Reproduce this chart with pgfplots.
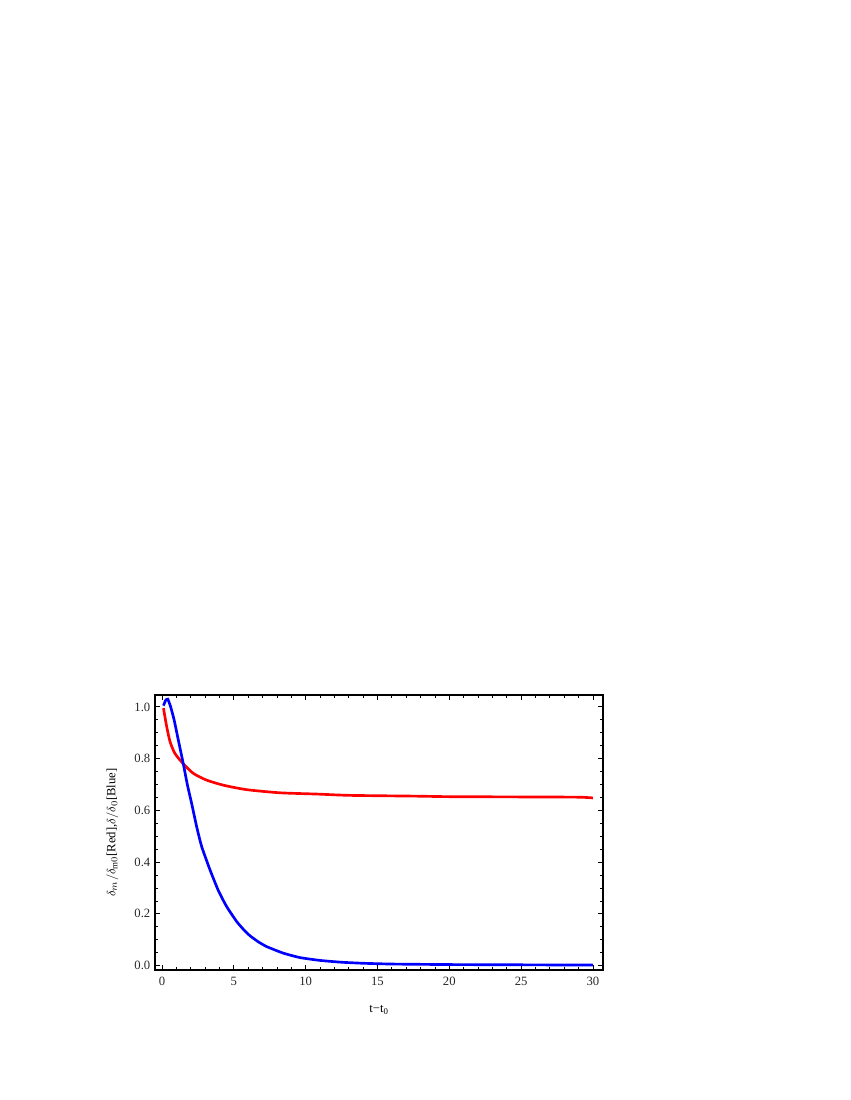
\documentclass[border=0pt]{standalone}
\usepackage{fontspec}
\setmainfont{Liberation Serif}
\usepackage{pgfplots}
\pgfplotsset{compat=1.18}
\begin{document}
\begin{tikzpicture}[x=1pt,y=1pt]
\path[use as bounding box] (0,0) rectangle (637.5,825);
\begin{axis}[
  at={(116.25pt,97.5pt)}, anchor=south west,
  scale only axis, width=336pt, height=206.25pt,
  xmin=-0.49, xmax=30.7, ymin=-0.017, ymax=1.046,
  xtick={0,5,...,30}, ytick={0,0.2,0.4,0.6,0.8,1.0},
  minor x tick num=4, minor y tick num=3,
  tick align=inside, xtick pos=both, ytick pos=both,
  major tick length=3.75pt, minor tick length=2.2pt,
  tick style={black, line width=0.6pt},
  axis line style={black, line width=0.9pt},
  /pgf/number format/assume math mode=true,
  ticklabel style={font=\fontsize{9.5}{11}\selectfont, text=black!85},
  yticklabel style={/pgf/number format/fixed, /pgf/number format/fixed zerofill, /pgf/number format/precision=1},
  xticklabel style={yshift=-2pt},
  xlabel={t−t\textsubscript{0}},
  ylabel={$\delta_m/\delta_{\mathrm{m}0}$[Red],$\delta/\delta_0$[Blue]},
  label style={font=\fontsize{9.5}{11}\selectfont},
  xlabel style={at={(axis description cs:0.5,-0.145)}, anchor=center},
  ylabel style={at={(axis description cs:-0.095,0.5)}, anchor=center},
]
\addplot[red, line width=2pt, smooth, tension=0.4] coordinates {
(0.1,0.995)(0.32,0.925)(0.56,0.865)(0.9,0.82)(1.48,0.78)(2.18,0.743)(3.1,0.717)(4.3,0.697)(5.9,0.68)(8.2,0.668)(10.8,0.663)(13.1,0.658)(17.7,0.655)(20,0.653)(25,0.652)(29,0.651)(30,0.648)
};
\addplot[blue, line width=2pt, smooth, tension=0.3] coordinates {
(0.1,1.005)(0.25,1.025)(0.4,1.03)(0.6,1.0)(0.84,0.95)(1.14,0.87)(1.48,0.78)(1.76,0.70)(2.06,0.627)(2.41,0.537)(2.76,0.46)(3.34,0.37)(3.92,0.29)(4.5,0.228)(5.2,0.17)(5.7,0.138)(6.13,0.115)(6.7,0.092)(7.3,0.073)(8.45,0.048)(9.6,0.031)(11,0.02)(12.5,0.013)(14,0.009)(16,0.006)(20,0.004)(25,0.003)(30,0.002)
};
\end{axis}
\end{tikzpicture}
\end{document}
